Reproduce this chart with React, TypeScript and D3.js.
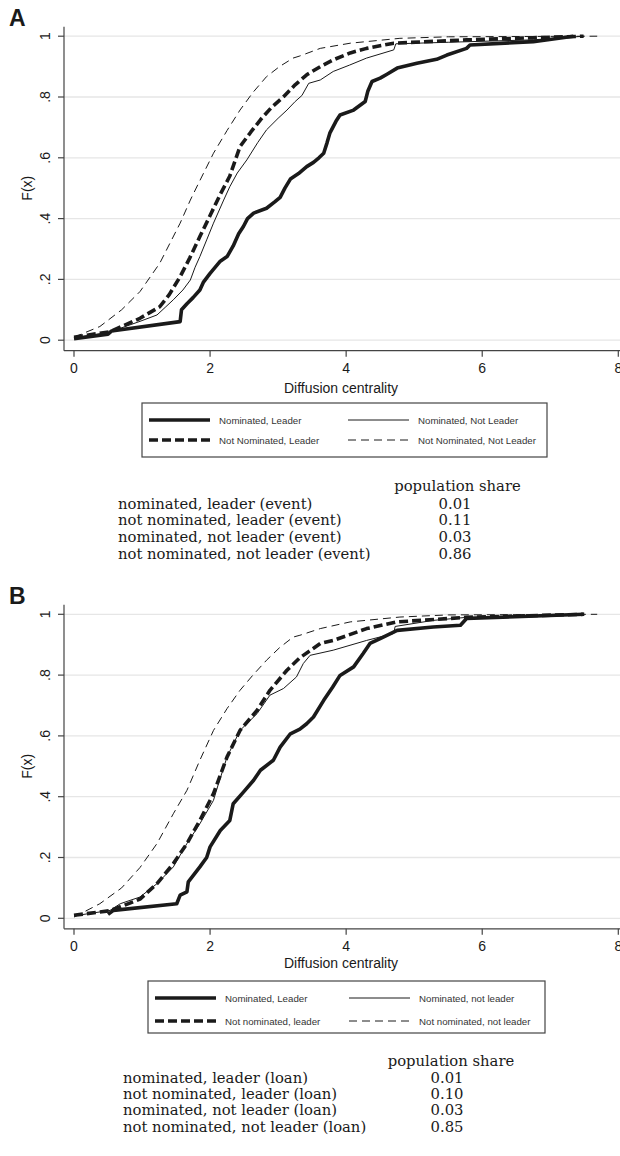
import React from "react";
import * as d3 from "d3";

// x ticks / y ticks shared by both panels
const xTicks = [0, 2, 4, 6, 8];
const yTicks = [0, 0.2, 0.4, 0.6, 0.8, 1];
const yTickLabels = ["0", ".2", ".4", ".6", ".8", "1"];

// Panel A (event) – CDF points [x, F(x)]
const eventNomLeader = [
  [0, 0.005], [0.5, 0.02], [0.55, 0.03], [1.56, 0.061], [1.58, 0.1], [1.66, 0.12], [1.75, 0.14],
  [1.85, 0.165], [1.9, 0.19], [2.0, 0.22], [2.15, 0.26], [2.25, 0.275], [2.34, 0.31], [2.42, 0.35],
  [2.49, 0.374], [2.55, 0.4], [2.64, 0.418], [2.83, 0.434], [2.95, 0.455], [3.03, 0.47], [3.1, 0.5],
  [3.18, 0.53], [3.3, 0.548], [3.42, 0.571], [3.52, 0.585], [3.6, 0.6], [3.67, 0.615], [3.72, 0.65],
  [3.76, 0.681], [3.85, 0.72], [3.91, 0.741], [4.11, 0.757], [4.28, 0.785], [4.32, 0.82], [4.38, 0.851],
  [4.5, 0.862], [4.6, 0.875], [4.75, 0.895], [5.04, 0.911], [5.33, 0.924], [5.48, 0.938], [5.77, 0.96],
  [5.82, 0.971], [6.75, 0.982], [7.34, 1.0],
];
const eventNotNomLeader = [
  [0, 0.01], [0.53, 0.028], [0.97, 0.072], [1.26, 0.11], [1.4, 0.15], [1.56, 0.209], [1.7, 0.27],
  [1.85, 0.341], [2.0, 0.41], [2.15, 0.48], [2.29, 0.54], [2.44, 0.637], [2.6, 0.685], [2.74, 0.725],
  [2.9, 0.765], [3.08, 0.801], [3.25, 0.84], [3.42, 0.873], [3.62, 0.9], [3.81, 0.922], [4.06, 0.945],
  [4.3, 0.96], [4.7, 0.977], [5.77, 0.988], [7.49, 1.0],
];
const eventNomNotLeader = [
  [0, 0.008], [0.5, 0.025], [0.97, 0.062], [1.22, 0.083], [1.35, 0.11], [1.46, 0.133], [1.6, 0.165],
  [1.71, 0.198], [1.78, 0.24], [1.85, 0.275], [1.95, 0.33], [2.05, 0.385], [2.2, 0.461], [2.29, 0.505],
  [2.4, 0.55], [2.54, 0.593], [2.7, 0.65], [2.83, 0.692], [3.0, 0.73], [3.13, 0.757], [3.25, 0.785],
  [3.35, 0.805], [3.45, 0.845], [3.62, 0.856], [3.81, 0.884], [4.05, 0.905], [4.3, 0.928], [4.7, 0.955],
  [4.73, 0.975], [5.5, 0.98], [6.75, 0.988], [7.5, 1.0],
];
const eventNotNomNotLeader = [
  [0, 0.01], [0.38, 0.045], [0.7, 0.1], [0.97, 0.16], [1.26, 0.253], [1.56, 0.385], [1.71, 0.461],
  [1.83, 0.516], [2.05, 0.615], [2.25, 0.69], [2.44, 0.757], [2.63, 0.815], [2.83, 0.867], [3.02, 0.9],
  [3.22, 0.928], [3.32, 0.935], [3.62, 0.96], [4.06, 0.977], [4.79, 0.993], [5.5, 0.998], [7.69, 1.0],
];

// Panel B (loan)
const loanNomLeader = [
  [0.5, 0.013], [0.58, 0.026], [1.51, 0.048], [1.56, 0.076], [1.66, 0.087], [1.68, 0.12], [1.85, 0.169],
  [1.95, 0.2], [2.0, 0.235], [2.15, 0.289], [2.29, 0.322], [2.34, 0.377], [2.49, 0.415], [2.64, 0.454],
  [2.74, 0.487], [2.93, 0.52], [3.03, 0.563], [3.18, 0.607], [3.32, 0.622], [3.42, 0.64], [3.52, 0.662],
  [3.67, 0.717], [3.8, 0.76], [3.91, 0.799], [4.11, 0.827], [4.25, 0.871], [4.35, 0.904], [4.5, 0.92],
  [4.75, 0.947], [5.28, 0.958], [5.68, 0.964], [5.77, 0.986], [7.5, 1.0],
];
const loanNotNomLeader = [
  [0, 0.01], [0.53, 0.025], [0.97, 0.063], [1.22, 0.114], [1.46, 0.18], [1.66, 0.246], [1.85, 0.322],
  [2.05, 0.41], [2.25, 0.531], [2.44, 0.618], [2.69, 0.684], [2.88, 0.75], [3.13, 0.816], [3.32, 0.857],
  [3.62, 0.904], [3.81, 0.914], [4.3, 0.953], [4.75, 0.975], [5.77, 0.99], [7.49, 1.0],
];
const loanNomNotLeader = [
  [0, 0.008], [0.53, 0.026], [0.68, 0.048], [0.97, 0.07], [1.22, 0.114], [1.46, 0.169], [1.66, 0.246],
  [1.85, 0.311], [2.05, 0.388], [2.12, 0.44], [2.25, 0.531], [2.44, 0.618], [2.69, 0.673], [2.88, 0.734],
  [3.08, 0.756], [3.27, 0.794], [3.37, 0.838], [3.47, 0.865], [3.81, 0.882], [4.3, 0.914], [4.7, 0.937],
  [4.72, 0.96], [5.28, 0.98], [5.77, 0.99], [7.3, 1.0],
];
const loanNotNomNotLeader = [
  [0, 0.004], [0.38, 0.048], [0.7, 0.1], [0.97, 0.167], [1.22, 0.246], [1.46, 0.344], [1.66, 0.421],
  [1.85, 0.52], [2.05, 0.618], [2.25, 0.69], [2.44, 0.75], [2.63, 0.8], [2.83, 0.849], [3.02, 0.89],
  [3.22, 0.925], [3.32, 0.931], [3.62, 0.953], [4.06, 0.975], [4.79, 0.991], [5.5, 0.998], [7.69, 1.0],
];

const legendA = ["Nominated, Leader", "Nominated, Not Leader", "Not Nominated, Leader", "Not Nominated, Not Leader"];
const legendB = ["Nominated, Leader", "Nominated, not leader", "Not nominated, leader", "Not nominated, not leader"];

const tableLabelsA = [
  "nominated, leader (event)",
  "not nominated, leader (event)",
  "nominated, not leader (event)",
  "not nominated, not leader (event)",
];
const tableValuesA = ["0.01", "0.11", "0.03", "0.86"];
const tableLabelsB = [
  "nominated, leader (loan)",
  "not nominated, leader (loan)",
  "nominated, not leader (loan)",
  "not nominated, not leader (loan)",
];
const tableValuesB = ["0.01", "0.10", "0.03", "0.85"];

const INK = "#1a1a1a";
const SANS = "'Liberation Sans', Arial, sans-serif";
const SERIF = "'DejaVu Serif', 'Liberation Serif', serif";
const TBL_FS = 14.8;

// line styles: nom-leader, nom-not-leader, notnom-leader, notnom-not-leader
const styles = [
  { w: 3.6, dash: null },
  { w: 1, dash: null },
  { w: 3.6, dash: "9,4" },
  { w: 1, dash: "8,5" },
];

function Panel({ letter, top, series, legend, legendBox, legendRows, labelsTbl, valuesTbl, tbl }) {
  // top: pixel y of F = 1
  const x = d3.scaleLinear().domain([0, 8]).range([74, 618.3]);
  const y = d3.scaleLinear().domain([0, 1]).range([top + 304, top]);
  const axisY = top + 314.5;
  const line = d3.line().x((d) => x(d[0])).y((d) => y(d[1]));

  return (
    <g>
      <text x={9} y={top - 10} fontFamily={SANS} fontWeight="bold" fontSize={23} fill={INK}>
        {letter}
      </text>
      {yTicks.map((t) => (
        <line key={"g" + t} x1={64} x2={620} y1={y(t)} y2={y(t)} stroke="#e6e6e6" strokeWidth={1.3} />
      ))}
      <line x1={64} x2={64} y1={top - 9.5} y2={axisY} stroke="#444" strokeWidth={1.2} />
      <line x1={64} x2={620} y1={axisY} y2={axisY} stroke="#444" strokeWidth={1.2} />
      {yTicks.map((t, i) => (
        <g key={"y" + t}>
          <line x1={58} x2={64} y1={y(t)} y2={y(t)} stroke="#444" strokeWidth={1.2} />
          <text
            x={45}
            y={y(t)}
            transform={`rotate(-90, 45, ${y(t)})`}
            textAnchor="middle"
            dominantBaseline="central"
            fontFamily={SANS}
            fontSize={14}
            fill={INK}
          >
            {yTickLabels[i]}
          </text>
        </g>
      ))}
      {xTicks.map((t) => (
        <g key={"x" + t}>
          <line x1={x(t)} x2={x(t)} y1={axisY} y2={axisY + 6} stroke="#444" strokeWidth={1.2} />
          <text x={x(t)} y={axisY + 17} textAnchor="middle" dominantBaseline="central" fontFamily={SANS} fontSize={14} fill={INK}>
            {t}
          </text>
        </g>
      ))}
      <text
        x={27}
        y={top + 152}
        transform={`rotate(-90, 27, ${top + 152})`}
        textAnchor="middle"
        dominantBaseline="central"
        fontFamily={SANS}
        fontSize={14}
        fill={INK}
      >
        F(x)
      </text>
      <text x={341} y={legendBox.titleY} textAnchor="middle" dominantBaseline="central" fontFamily={SANS} fontSize={14} fill={INK}>
        Diffusion centrality
      </text>

      {series.map((s, i) => (
        <path
          key={"s" + i}
          d={line(s)}
          fill="none"
          stroke={INK}
          strokeWidth={styles[i].w}
          strokeDasharray={styles[i].dash || undefined}
          strokeLinejoin="round"
        />
      ))}

      <rect
        x={legendBox.x0}
        y={legendBox.y0}
        width={legendBox.x1 - legendBox.x0}
        height={legendBox.y1 - legendBox.y0}
        fill="none"
        stroke="#444"
        strokeWidth={1.2}
      />
      {legend.map((lab, i) => {
        const col = i % 2;
        const row = Math.floor(i / 2);
        const lx = legendBox.x0 + 7 + col * legendBox.colGap;
        const ly = legendRows[row];
        return (
          <g key={"l" + i}>
            <line
              x1={lx}
              x2={lx + 61}
              y1={ly}
              y2={ly}
              stroke={INK}
              strokeWidth={styles[i].w}
              strokeDasharray={styles[i].dash || undefined}
            />
            <text x={lx + 70} y={ly} dominantBaseline="central" fontFamily={SANS} fontSize={9.7} fill="#333">
              {lab}
            </text>
          </g>
        );
      })}

      <text x={tbl.headX} y={tbl.headY} textAnchor="middle" dominantBaseline="central" fontFamily={SERIF} fontSize={TBL_FS} fill={INK}>
        population share
      </text>
      {labelsTbl.map((lab, i) => (
        <g key={"t" + i}>
          <text x={tbl.labX} y={tbl.rowY[i]} dominantBaseline="central" fontFamily={SERIF} fontSize={TBL_FS} fill={INK}>
            {lab}
          </text>
          <text x={tbl.valX} y={tbl.rowY[i]} textAnchor="middle" dominantBaseline="central" fontFamily={SERIF} fontSize={TBL_FS} fill={INK}>
            {valuesTbl[i]}
          </text>
        </g>
      ))}
    </g>
  );
}

export default function App() {
  return (
    <svg width={620} height={1156} style={{ position: "absolute", left: 0, top: 0, background: "#fff" }}>
      <rect width={620} height={1156} fill="#fff" />
      <Panel
        letter="A"
        top={36.2}
        series={[eventNomLeader, eventNomNotLeader, eventNotNomLeader, eventNotNomNotLeader]}
        legend={legendA}
        legendBox={{ x0: 142, x1: 547, y0: 403, y1: 457, titleY: 387.5, colGap: 199 }}
        legendRows={[420, 440]}
        labelsTbl={tableLabelsA}
        valuesTbl={tableValuesA}
        tbl={{ headX: 457.5, headY: 485, labX: 118, valX: 455, rowY: [503, 519.5, 536, 553] }}
      />
      <Panel
        letter="B"
        top={614.3}
        series={[loanNomLeader, loanNomNotLeader, loanNotNomLeader, loanNotNomNotLeader]}
        legend={legendB}
        legendBox={{ x0: 148, x1: 545, y0: 981, y1: 1033, titleY: 963, colGap: 194 }}
        legendRows={[998, 1021]}
        labelsTbl={tableLabelsB}
        valuesTbl={tableValuesB}
        tbl={{ headX: 451, headY: 1060, labX: 123, valX: 447, rowY: [1077, 1093, 1109.5, 1126] }}
      />
    </svg>
  );
}
